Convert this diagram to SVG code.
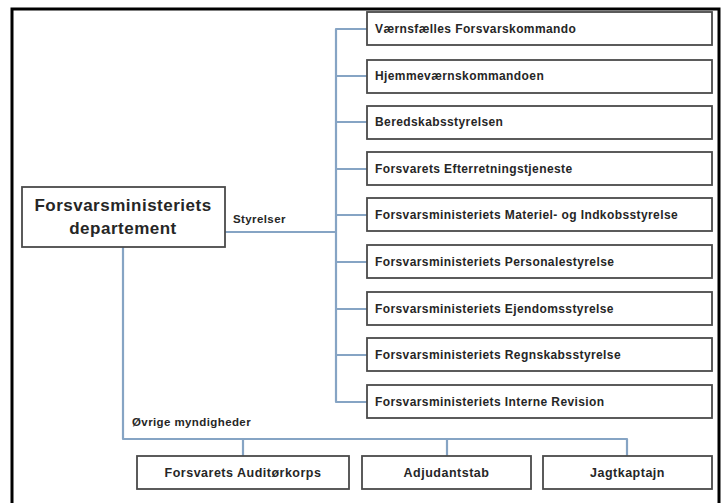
<svg xmlns="http://www.w3.org/2000/svg" width="721" height="503" viewBox="0 0 721 503">
<style>
.frame{fill:#fff;stroke:#000;stroke-width:3}
.box{fill:#fff;stroke:#4a4a4a;stroke-width:1.8}
.ln{fill:none;stroke:#86a4c4;stroke-width:2.2;stroke-linejoin:round}
text{font-family:"Liberation Sans",Arial,sans-serif;font-weight:bold;fill:#262626}
.t{font-size:12px;letter-spacing:0.4px}
.bt{font-size:12.5px;letter-spacing:0.5px;text-anchor:middle}
.lbl{font-size:11.5px;letter-spacing:0.4px}
.main{font-size:17px;letter-spacing:0.5px;text-anchor:middle}
</style>
<rect class="frame" x="12" y="9" width="707" height="500"/>
<g id="connectors">
<path class="ln" d="M225 232 H336"/>
<path class="ln" d="M368 29 H336 V402 H368"/>
<path class="ln" d="M336 76 H368 M336 122 H368 M336 169 H368 M336 215 H368 M336 262 H368 M336 309 H368 M336 355 H368"/>
<path class="ln" d="M123 247 V439 H627 V456"/>
<path class="ln" d="M243 439 V456 M447 439 V456"/>
</g>
<g id="main">
<rect class="box" x="22" y="187" width="203" height="60"/>
<text class="main" x="123" y="211">Forsvarsministeriets</text>
<text class="main" x="123" y="234">departement</text>
</g>
<text class="lbl" x="233" y="223">Styrelser</text>
<text class="lbl" x="132" y="426">Øvrige myndigheder</text>
<g id="n1"><rect class="box" x="367" y="12" width="345" height="33"/><text class="t" x="375" y="33">Værnsfælles Forsvarskommando</text></g>
<g id="n2"><rect class="box" x="367" y="60" width="345" height="33"/><text class="t" x="375" y="80">Hjemmeværnskommandoen</text></g>
<g id="n3"><rect class="box" x="367" y="106" width="345" height="33"/><text class="t" x="375" y="126">Beredskabsstyrelsen</text></g>
<g id="n4"><rect class="box" x="367" y="152" width="345" height="33"/><text class="t" x="375" y="173">Forsvarets Efterretningstjeneste</text></g>
<g id="n5"><rect class="box" x="367" y="198" width="345" height="33"/><text class="t" x="375" y="219">Forsvarsministeriets Materiel- og Indkobsstyrelse</text></g>
<g id="n6"><rect class="box" x="367" y="245" width="345" height="33"/><text class="t" x="375" y="266">Forsvarsministeriets Personalestyrelse</text></g>
<g id="n7"><rect class="box" x="367" y="292" width="345" height="33"/><text class="t" x="375" y="313">Forsvarsministeriets Ejendomsstyrelse</text></g>
<g id="n8"><rect class="box" x="367" y="338" width="345" height="33"/><text class="t" x="375" y="359">Forsvarsministeriets Regnskabsstyrelse</text></g>
<g id="n9"><rect class="box" x="367" y="385" width="345" height="33"/><text class="t" x="375" y="406">Forsvarsministeriets Interne Revision</text></g>
<g id="b1"><rect class="box" x="137" y="456" width="212" height="33"/><text class="bt" x="243" y="477">Forsvarets Auditørkorps</text></g>
<g id="b2"><rect class="box" x="362" y="456" width="169" height="33"/><text class="bt" x="446.5" y="477">Adjudantstab</text></g>
<g id="b3"><rect class="box" x="543" y="456" width="169" height="33"/><text class="bt" x="627.5" y="477">Jagtkaptajn</text></g>
</svg>
